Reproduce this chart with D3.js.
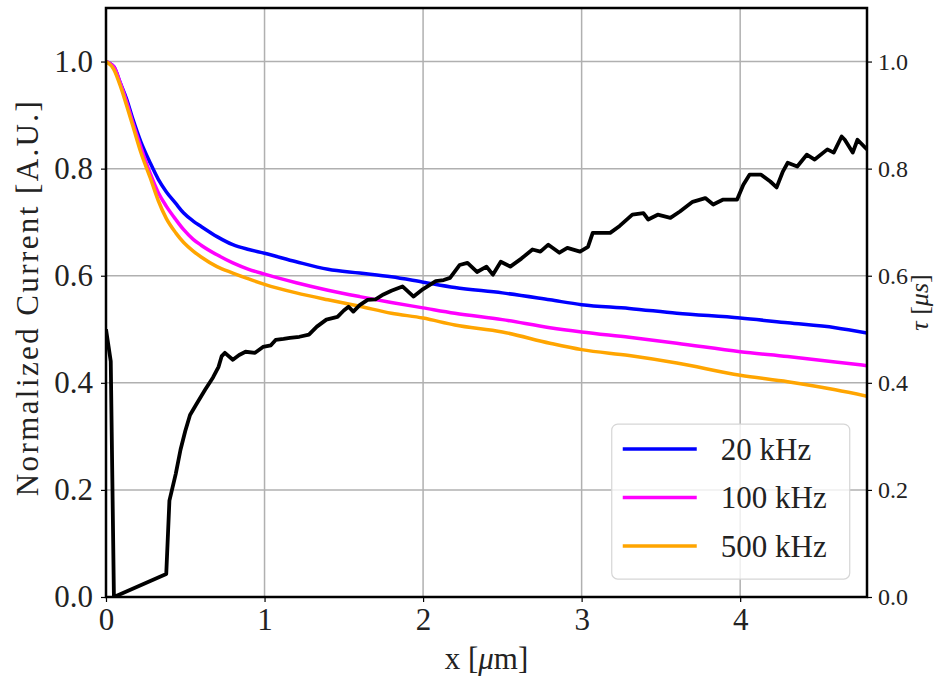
<!DOCTYPE html>
<html>
<head>
<meta charset="utf-8">
<script src="https://cdn.jsdelivr.net/npm/d3@7"></script>
<style>
  body { margin: 0; background: #fff; }
  svg text { font-family: "Liberation Serif", "Times New Roman", serif; fill: #222; }
</style>
</head>
<body>
<svg id="chart" width="945" height="679"></svg>
<script>
// Data
const seriesLabels = ["20 kHz", "100 kHz", "500 kHz"];
const seriesColors = ["#0000ff", "#ff00ff", "#ffa500"];

const currentX = [0, 0.05, 0.09, 0.13, 0.17, 0.22, 0.28, 0.33, 0.38, 0.44, 0.49, 0.55, 0.6, 0.7, 0.8, 0.9, 1.0,
    1.2, 1.4, 1.6, 1.8, 2.0, 2.2, 2.5, 2.8, 3.0, 3.3, 3.6, 4.0, 4.3, 4.6, 4.8];
const current20k = [1.0, 0.99, 0.96, 0.93, 0.892, 0.85, 0.81, 0.78, 0.757, 0.735, 0.717, 0.702, 0.692, 0.673, 0.658, 0.649, 0.642,
    0.626, 0.612, 0.605, 0.598, 0.588, 0.578, 0.568, 0.555, 0.546, 0.539, 0.530, 0.521, 0.512, 0.503, 0.493];
const current100k = [1.0, 0.99, 0.96, 0.925, 0.885, 0.84, 0.79, 0.755, 0.73, 0.705, 0.686, 0.668, 0.657, 0.639, 0.624, 0.612, 0.603,
    0.587, 0.573, 0.561, 0.55, 0.54, 0.53, 0.518, 0.503, 0.495, 0.485, 0.474, 0.458, 0.449, 0.439, 0.432];
const current500k = [1.0, 0.985, 0.955, 0.918, 0.879, 0.83, 0.782, 0.74, 0.707, 0.68, 0.662, 0.646, 0.635, 0.617, 0.605, 0.594, 0.584,
    0.568, 0.555, 0.543, 0.53, 0.521, 0.508, 0.495, 0.474, 0.462, 0.451, 0.437, 0.414, 0.402, 0.387, 0.375];

// tau [us] on the right axis
const tauX = [0, 0.03, 0.05, 0.38, 0.40, 0.44, 0.47, 0.50, 0.53, 0.57, 0.625, 0.675, 0.71, 0.73, 0.75, 0.80, 0.84, 0.88, 0.94, 0.99,
    1.04, 1.07, 1.12, 1.16, 1.22, 1.28, 1.33, 1.39, 1.46, 1.50, 1.53, 1.56, 1.60, 1.65, 1.70, 1.75, 1.80, 1.87, 1.94, 2.00,
    2.08, 2.13, 2.17, 2.23, 2.28, 2.34, 2.40, 2.44, 2.49, 2.55, 2.62, 2.69, 2.74, 2.79, 2.86, 2.91, 2.99, 3.04, 3.07, 3.12,
    3.18, 3.24, 3.32, 3.39, 3.42, 3.48, 3.56, 3.62, 3.70, 3.78, 3.83, 3.89, 3.98, 4.02, 4.06, 4.13, 4.19, 4.23, 4.27, 4.30,
    4.36, 4.42, 4.47, 4.55, 4.59, 4.64, 4.66, 4.71, 4.74, 4.80];
const tauValues = [0.50, 0.44, 0.0, 0.043, 0.18, 0.23, 0.275, 0.31, 0.34, 0.36, 0.387, 0.41, 0.43, 0.45, 0.456, 0.443, 0.452, 0.458, 0.456, 0.467,
    0.47, 0.48, 0.482, 0.484, 0.486, 0.49, 0.505, 0.518, 0.523, 0.535, 0.542, 0.533, 0.545, 0.555, 0.556, 0.565, 0.572, 0.58, 0.561, 0.575,
    0.59, 0.592, 0.596, 0.62, 0.624, 0.607, 0.617, 0.602, 0.626, 0.617, 0.632, 0.649, 0.645, 0.658, 0.643, 0.652, 0.645, 0.654, 0.68, 0.68,
    0.68, 0.693, 0.714, 0.717, 0.705, 0.714, 0.708, 0.72, 0.738, 0.745, 0.733, 0.742, 0.742, 0.77, 0.789, 0.789, 0.776, 0.765, 0.795, 0.811,
    0.804, 0.826, 0.817, 0.836, 0.83, 0.86, 0.854, 0.83, 0.854, 0.836];

const xTicks = [0, 1, 2, 3, 4];
const yTicks = [0, 0.2, 0.4, 0.6, 0.8, 1.0];

const margin = { top: 8, right: 78, bottom: 82, left: 106 };
const width = 945 - margin.left - margin.right;
const height = 679 - margin.top - margin.bottom;

const svg = d3.select("#chart");
const g = svg.append("g").attr("transform", `translate(${margin.left},${margin.top})`);

const x = d3.scaleLinear().domain([0, 4.8]).range([0, width]);
const y = d3.scaleLinear().domain([0, 1.1]).range([height, 0]);
const yRight = d3.scaleLinear().domain([0, 1.1]).range([height, 0]);

// grid
g.append("g").selectAll("line").data(xTicks).enter().append("line")
    .attr("x1", d => x(d)).attr("x2", d => x(d))
    .attr("y1", 0).attr("y2", height)
    .attr("stroke", "#b0b0b0").attr("stroke-width", 1.5);
g.append("g").selectAll("line").data(yTicks).enter().append("line")
    .attr("x1", 0).attr("x2", width)
    .attr("y1", d => y(d)).attr("y2", d => y(d))
    .attr("stroke", "#b0b0b0").attr("stroke-width", 1.5);

g.append("defs").append("clipPath").attr("id", "clip")
    .append("rect").attr("width", width).attr("height", height);

const plot = g.append("g").attr("clip-path", "url(#clip)");

const currentSeries = [current20k, current100k, current500k];
const line = d3.line()
    .x(d => x(d[0]))
    .y(d => y(d[1]))
    .curve(d3.curveMonotoneX);

currentSeries.forEach((vals, i) => {
    plot.append("path")
        .datum(currentX.map((xv, j) => [xv, vals[j]]))
        .attr("fill", "none")
        .attr("stroke", seriesColors[i])
        .attr("stroke-width", 3.5)
        .attr("stroke-linejoin", "round")
        .attr("d", line);
});

const tauLine = d3.line()
    .x(d => x(d[0]))
    .y(d => yRight(d[1]));

plot.append("path")
    .datum(tauX.map((xv, j) => [xv, tauValues[j]]))
    .attr("fill", "none")
    .attr("stroke", "#000")
    .attr("stroke-width", 3.8)
    .attr("stroke-linejoin", "round")
    .attr("d", tauLine);

// axes
const xAxis = g.append("g").attr("transform", `translate(0,${height})`)
    .call(d3.axisBottom(x).tickValues(xTicks).tickSize(5).tickPadding(4).tickFormat(d3.format("d")));
const yAxis = g.append("g")
    .call(d3.axisLeft(y).tickValues(yTicks).tickSize(5).tickPadding(8).tickFormat(d3.format(".1f")));
const yAxisR = g.append("g").attr("transform", `translate(${width},0)`)
    .call(d3.axisRight(yRight).tickValues(yTicks).tickSize(5).tickPadding(6).tickFormat(d3.format(".1f")));

[xAxis, yAxis, yAxisR].forEach(a => {
    a.select(".domain").remove();
    a.selectAll(".tick line").attr("stroke", "#000").attr("stroke-width", 1.2);
    a.selectAll(".tick text").style("font-size", "31px").style("font-family", "Liberation Serif").attr("fill", "#222");
});
xAxis.selectAll(".tick text").attr("dy", "0.78em");
yAxisR.selectAll(".tick text").style("font-size", "24px");

// frame
g.append("rect")
    .attr("width", width).attr("height", height)
    .attr("fill", "none").attr("stroke", "#000").attr("stroke-width", 2.5);

// labels
svg.append("text")
    .attr("transform", `translate(${margin.left + width / 2},${margin.top + height + 72})`)
    .attr("text-anchor", "middle")
    .style("font-size", "31px")
    .html("x [<tspan font-style='italic'>μ</tspan>m]");

svg.append("text")
    .attr("transform", `translate(38,${margin.top + height / 2 - 5}) rotate(-90)`)
    .attr("text-anchor", "middle")
    .style("font-size", "31px")
    .style("letter-spacing", "2.4px")
    .text("Normalized Current [A.U.]");

svg.append("text")
    .attr("transform", `translate(928,${margin.top + height / 2}) rotate(-90)`)
    .attr("text-anchor", "middle")
    .style("font-size", "26px")
    .html("<tspan font-style='italic'>τ</tspan> [<tspan font-style='italic'>μs</tspan>]");

// legend
const legend = g.append("g").attr("transform", `translate(${x(3.19)},${y(0.323)})`);
legend.append("rect")
    .attr("width", 238).attr("height", 155)
    .attr("rx", 6).attr("ry", 6)
    .attr("fill", "#fff").attr("fill-opacity", 0.8)
    .attr("stroke", "#d6d6d6").attr("stroke-width", 1.2);

seriesLabels.forEach((lab, i) => {
    const yy = 25 + i * 48.5;
    legend.append("line")
        .attr("x1", 11).attr("x2", 85)
        .attr("y1", yy).attr("y2", yy)
        .attr("stroke", seriesColors[i]).attr("stroke-width", 3.5);
    legend.append("text")
        .attr("x", 109).attr("y", yy)
        .attr("dy", "0.35em")
        .style("font-size", "31px")
        .text(lab);
});
</script>
</body>
</html>
